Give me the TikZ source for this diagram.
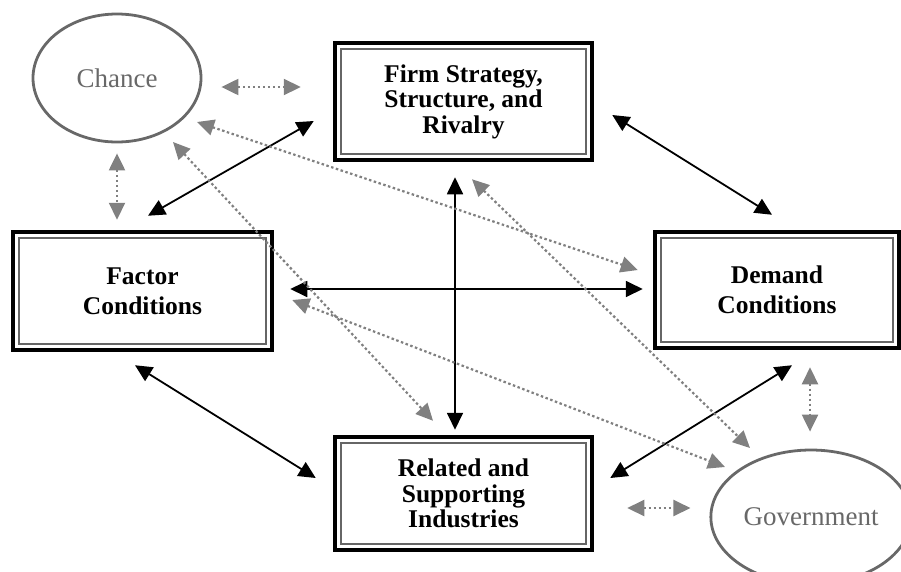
\documentclass[tikz,border=0pt]{standalone}
\usepackage{fontspec}
\setmainfont{Liberation Serif}
\usetikzlibrary{shapes.geometric, arrows.meta, positioning}

\definecolor{dotgray}{HTML}{808080}
\definecolor{ringgray}{HTML}{686868}

\tikzstyle{force}   = [rectangle, minimum width=257pt, minimum height=117pt, text centered, align=center, draw=black, line width=4.5pt, path picture={\draw[gray!80!black, line width=1.5pt] ([shift={(6pt,-6pt)}]path picture bounding box.north west) rectangle ([shift={(-6pt,6pt)}]path picture bounding box.south east);}]
\tikzstyle{threeln} = [font=\bfseries\fontsize{25.5}{25.5}\selectfont]
\tikzstyle{twoln}   = [font=\bfseries\fontsize{25.5}{30}\selectfont]
\tikzstyle{outside} = [ellipse, minimum width=168pt, minimum height=128pt, draw=ringgray, line width=2.8pt, text=ringgray, font=\fontsize{27}{30}\selectfont]
\tikzstyle{link}    = [line width=1.8pt, {Triangle[length=17pt,width=16pt]}-{Triangle[length=17pt,width=16pt]}]
\tikzstyle{hint}    = [dotgray, line width=2.2pt, dash pattern=on 2.5pt off 2.5pt, {Triangle[length=17pt,width=16pt]}-{Triangle[length=17pt,width=16pt]}]

\begin{document}
\begin{tikzpicture}[x=1pt, y=-1pt]

\useasboundingbox (0,0) rectangle (901,571);

\node (firm)    [force, threeln] at (463.5,101.5) {Firm Strategy,\\Structure, and\\Rivalry};
\node (factor)  [force, twoln, minimum width=259pt, minimum height=118pt] at (142.5,291) {Factor\\Conditions};
\node (demand)  [force, twoln, minimum width=244pt, minimum height=116pt] at (777,290) {Demand\\Conditions};
\node (related) [force, threeln, minimum height=113pt] at (463.5,493.5) {Related and\\Supporting\\Industries};
\node (chance)  [outside] at (117,78) {Chance};
\node (gov)     [outside, minimum height=134pt] at (811,517) {Government};

\draw [link] ([shift={(5.5,-14)}]factor.north)  -- ([shift={(-19,19.5)}]firm.west);
\draw [link] ([shift={(18,13.5)}]firm.east)     -- ([shift={(-5,-15)}]demand.north);
\draw [link] ([shift={(16,-2)}]factor.east)     -- ([shift={(-10,-1)}]demand.west);
\draw [link] ([shift={(-8.5,15)}]firm.south)    -- ([shift={(-8.5,-5)}]related.north);
\draw [link] ([shift={(-7.5,13)}]factor.south)  -- ([shift={(-17,-15.5)}]related.west);
\draw [link] ([shift={(15,15)}]demand.south)    -- ([shift={(16,-15.5)}]related.east);

\draw [hint] ([shift={(19,9)}]chance.east)      -- ([shift={(-32,-14.5)}]firm.west);
\draw [hint] ([shift={(0,10)}]chance.south)     -- ([shift={(-25.5,-10)}]factor.north);
\draw [hint] ([shift={(33,14.5)}]related.east)  -- ([shift={(-19,-9)}]gov.west);
\draw [hint] ([shift={(33,17)}]demand.south)    -- ([shift={(-1,-17)}]gov.north);
\draw [hint] ([shift={(80,44)}]chance.center)   -- ([shift={(-15,-20)}]demand.west);
\draw [hint] ([shift={(56,64)}]chance.center)   -- ([shift={(-30.5,-14)}]related.north);
\draw [hint] ([shift={(8.5,17)}]firm.south)     -- ([shift={(-61,-69)}]gov.center);
\draw [hint] ([shift={(18,9)}]factor.east)      -- ([shift={(-86,-50)}]gov.center);

\end{tikzpicture}
\end{document}
